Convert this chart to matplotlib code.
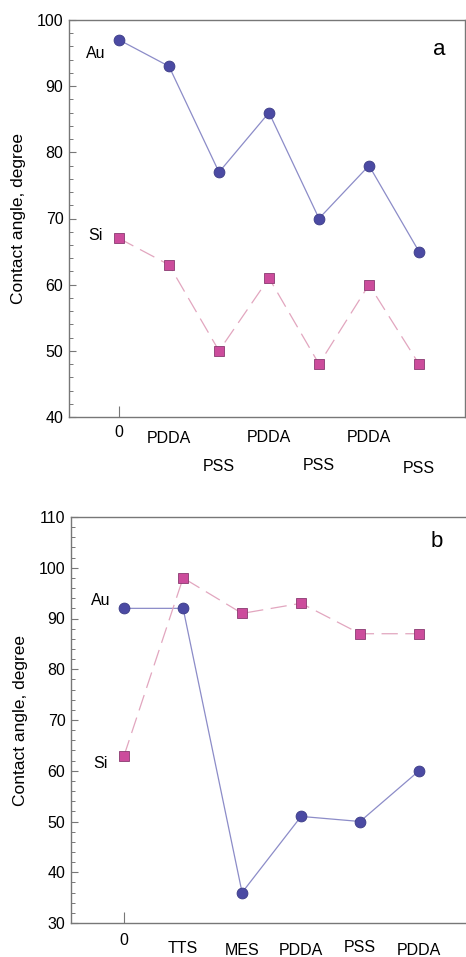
import matplotlib.pyplot as plt
import matplotlib.transforms as mtransforms
from matplotlib.ticker import MultipleLocator

plt.rcParams['font.family'] = ['Liberation Sans', 'DejaVu Sans']

# panel a
steps_a = ["0", "PDDA", "PSS", "PDDA", "PSS", "PDDA", "PSS"]
au_a = [97, 93, 77, 86, 70, 78, 65]
si_a = [67, 63, 50, 61, 48, 60, 48]

# panel b
steps_b = ["0", "TTS", "MES", "PDDA", "PSS", "PDDA"]
au_b = [92, 92, 36, 51, 50, 60]
si_b = [63, 98, 91, 93, 87, 87]

au_line = '#8c8cc8'
au_face = '#4b4aa3'
au_edge = '#3a3a85'
si_line = '#e2a6bf'
si_face = '#cc4c9c'
si_edge = '#8a3a70'
spine_c = '#777777'
fs = 11.5


def style_axes(ax, ymin, ymax):
    ax.set_ylim(ymin, ymax)
    ax.yaxis.set_major_locator(MultipleLocator(10))
    ax.yaxis.set_minor_locator(MultipleLocator(2))
    ax.tick_params(axis='y', which='major', direction='in', length=5, width=0.8,
                   color=spine_c, labelsize=fs, pad=4)
    ax.tick_params(axis='y', which='minor', direction='in', length=3, width=0.7,
                   color=spine_c)
    ax.tick_params(axis='y', right=False)
    ax.set_xticks([0])
    ax.set_xticklabels([''])
    ax.tick_params(axis='x', direction='in', length=8, width=0.8, color=spine_c)
    for s in ax.spines.values():
        s.set_color(spine_c)
        s.set_linewidth(1.0)
    ax.set_ylabel("Contact angle, degree", fontsize=12.5, labelpad=8)


def put_labels(ax, labels, offsets):
    trans = mtransforms.blended_transform_factory(ax.transData, ax.transAxes)
    for i, (lab, dy) in enumerate(zip(labels, offsets)):
        ax.text(i, dy, lab, transform=trans, ha='center', va='center', fontsize=fs)


fig = plt.figure(figsize=(4.66, 9.57), dpi=100)

ax1 = fig.add_axes([69 / 466, 1 - 417 / 957, 396 / 466, 397 / 957])
x_a = list(range(len(steps_a)))
ax1.plot(x_a, au_a, '-', color=au_line, lw=0.9, zorder=2)
ax1.plot(x_a, au_a, 'o', ms=7.8, mfc=au_face, mec=au_edge, mew=0.6, zorder=3)
ax1.plot(x_a, si_a, '--', color=si_line, lw=0.9, dashes=(13, 6), zorder=2)
ax1.plot(x_a, si_a, 's', ms=7, mfc=si_face, mec=si_edge, mew=0.6, zorder=3)
ax1.set_xlim(-1, 6.92)
style_axes(ax1, 40, 100)
put_labels(ax1, steps_a, [-0.04, -0.055, -0.125, -0.052, -0.123, -0.052, -0.13])
ax1.text(-0.47, 95, "Au", fontsize=fs, ha='center', va='center')
ax1.text(-0.47, 67.5, "Si", fontsize=fs, ha='center', va='center')
ax1.text(0.935, 0.925, "a", transform=ax1.transAxes, fontsize=16, ha='center', va='center')

ax2 = fig.add_axes([71 / 466, 1 - 923 / 957, 400 / 466, 406 / 957])
x_b = list(range(len(steps_b)))
ax2.plot(x_b, au_b, '-', color=au_line, lw=0.9, zorder=2)
ax2.plot(x_b, au_b, 'o', ms=7.8, mfc=au_face, mec=au_edge, mew=0.6, zorder=3)
ax2.plot(x_b, si_b, '--', color=si_line, lw=0.9, dashes=(13, 6), zorder=2)
ax2.plot(x_b, si_b, 's', ms=7, mfc=si_face, mec=si_edge, mew=0.6, zorder=3)
ax2.set_xlim(-0.9, 5.88)
style_axes(ax2, 30, 110)
ax2.spines['right'].set_visible(False)
put_labels(ax2, steps_b, [-0.042, -0.062, -0.067, -0.067, -0.06, -0.067])
ax2.text(-0.4, 93.5, "Au", fontsize=fs, ha='center', va='center')
ax2.text(-0.4, 61.5, "Si", fontsize=fs, ha='center', va='center')
ax2.text(0.915, 0.94, "b", transform=ax2.transAxes, fontsize=16, ha='center', va='center')

fig.savefig("out.png", dpi=100)
